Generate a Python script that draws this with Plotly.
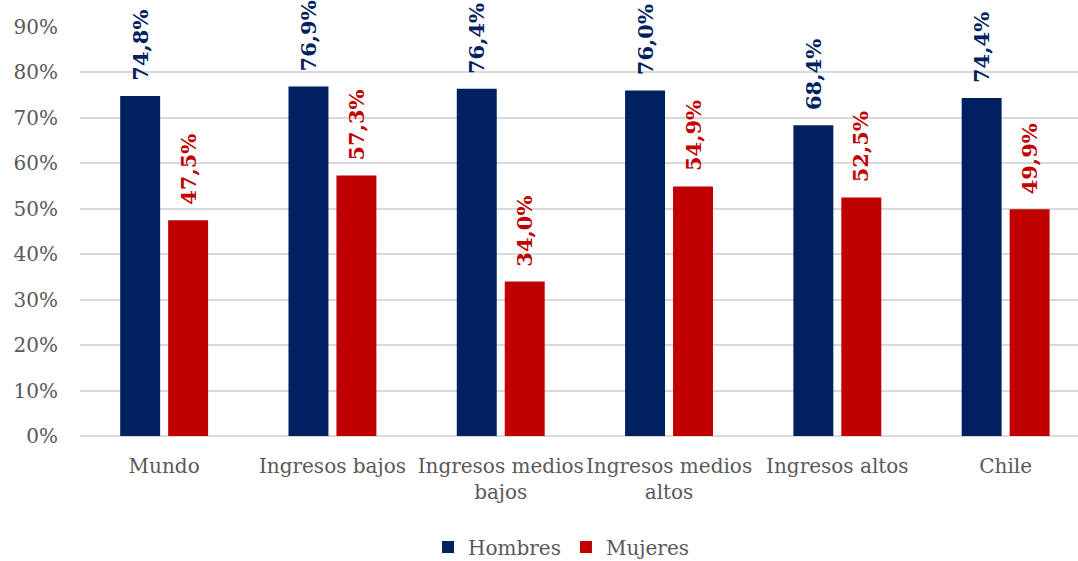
import plotly.graph_objects as go

categorias = ["Mundo", "Ingresos bajos", "Ingresos medios bajos",
              "Ingresos medios altos", "Ingresos altos", "Chile"]
etiquetas_eje = ["Mundo", "Ingresos bajos", "Ingresos medios<br>bajos",
                 "Ingresos medios<br>altos", "Ingresos altos", "Chile"]
hombres = [74.8, 76.9, 76.4, 76.0, 68.4, 74.4]
mujeres = [47.5, 57.3, 34.0, 54.9, 52.5, 49.9]

AZUL = "#002060"
ROJO = "#C00000"
GRIS = "#595959"
FUENTE = "DejaVu Serif"

def etiqueta(v):
    return f"{v:.1f}%".replace(".", ",")

fig = go.Figure()
series = [("Hombres", hombres, AZUL, -24), ("Mujeres", mujeres, ROJO, 24)]
for nombre, valores, color, desplazamiento in series:
    fig.add_bar(
        name=nombre,
        x=categorias,
        y=[v / 100 for v in valores],
        marker=dict(color=color, line=dict(width=0)),
    )
    # value labels, rotated, sitting above each bar
    for cat, v in zip(categorias, valores):
        fig.add_annotation(
            x=cat, y=v / 100, xref="x", yref="y",
            text=etiqueta(v), textangle=-90, showarrow=False,
            xanchor="center", yanchor="bottom",
            xshift=desplazamiento, yshift=13,
            font=dict(family=FUENTE, size=21, color=color, weight="bold"),
        )

fig.update_layout(
    width=1078, height=561,
    margin=dict(l=80, r=0, t=27, b=125, autoexpand=False),
    paper_bgcolor="white", plot_bgcolor="white",
    barmode="group", bargap=0.43, bargroupgap=0.167,
    font=dict(family=FUENTE, size=20, color=GRIS),
    showlegend=True,
    legend=dict(orientation="h", x=0.482, xanchor="center",
                yref="container", y=0.025, yanchor="middle",
                font=dict(family=FUENTE, size=20, color=GRIS), itemwidth=30),
)
fig.update_xaxes(
    tickvals=categorias, ticktext=etiquetas_eje,
    range=[-0.5, 5.43], showgrid=False, showline=False, ticks="",
    ticklabelstandoff=16, automargin=False,
    tickfont=dict(family=FUENTE, size=20, color=GRIS),
)
fig.update_yaxes(
    range=[0, 0.9], dtick=0.1, tickformat=".0%",
    showgrid=True, gridcolor="#D9D9D9", gridwidth=1.5,
    zeroline=True, zerolinecolor="#D9D9D9", zerolinewidth=1.5,
    showline=False, ticks="", ticklabelstandoff=21, automargin=False,
    tickfont=dict(family=FUENTE, size=20, color=GRIS),
)

fig.write_html("out.html")
